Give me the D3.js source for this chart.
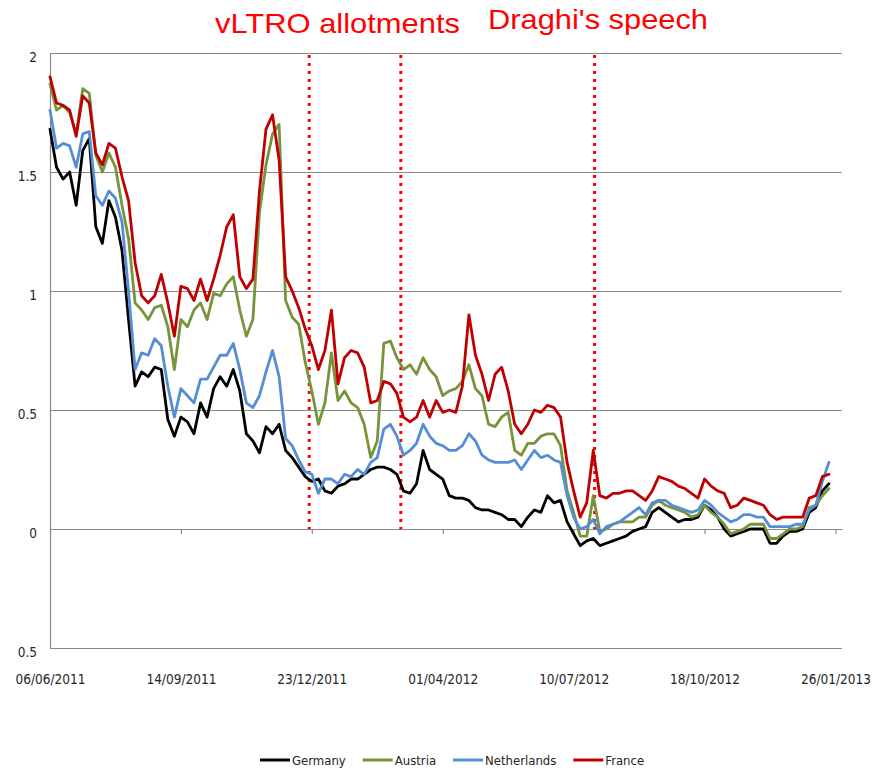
<!DOCTYPE html>
<html>
<head>
<meta charset="utf-8">
<script src="https://cdn.jsdelivr.net/npm/d3@7"></script>
<style>
body { margin: 0; background: #fff; }
.grid line { stroke: #8a8a8a; stroke-width: 1.2; }
.grid .domain { stroke: #8a8a8a; stroke-width: 1.2; }
.tick text { font-family: "DejaVu Sans Condensed", "Liberation Sans", sans-serif; font-size: 13.5px; fill: #262626; }
.legend text { font-family: "DejaVu Sans Condensed", "Liberation Sans", sans-serif; font-size: 13px; fill: #262626; }
.line { fill: none; stroke-width: 2.8; stroke-linejoin: round; stroke-linecap: round; }
.note { font-family: "Liberation Sans", Arial, sans-serif; font-size: 28px; fill: #ff0000; }
</style>
</head>
<body>
<div class="chart"></div>
<script>
// weekly readings (every 5 days from 06/06/2011)
var startDate = new Date(2011, 5, 6);
var endDate = new Date(2013, 0, 31);

var germany = [1.68,1.52,1.47,1.50,1.36,1.59,1.64,1.27,1.20,1.38,1.31,1.17,0.88,0.60,0.66,0.64,0.68,0.67,0.46,0.39,0.47,0.45,0.40,0.53,0.47,0.59,0.64,0.60,0.67,
  0.58,0.40,0.37,0.32,0.43,0.40,0.44,0.33,0.30,0.26,0.22,0.20,0.21,0.16,0.15,0.18,0.19,0.21,0.21,0.23,0.25,0.26,0.26,0.25,0.23,0.16,0.15,0.19,
  0.33,0.25,0.23,0.21,0.14,0.13,0.13,0.12,0.09,0.08,0.08,0.07,0.06,0.04,0.04,0.01,0.05,0.08,0.07,0.14,0.11,0.12,0.03,-0.02,-0.07,-0.05,
  -0.04,-0.07,-0.06,-0.05,-0.04,-0.03,-0.01,0.00,0.01,0.07,0.09,0.07,0.05,0.03,0.04,0.04,0.05,0.10,0.08,0.05,0.00,-0.03,-0.02,-0.01,0.00,0.00,0.00,-0.06,-0.06,-0.03,-0.01,-0.01,0.00,0.07,0.09,0.16,0.19];

var austria = [1.87,1.76,1.78,1.75,1.66,1.85,1.83,1.57,1.50,1.58,1.52,1.36,1.22,0.95,0.92,0.88,0.93,0.94,0.85,0.67,0.88,0.85,0.92,0.95,0.88,0.99,0.98,1.03,1.06,
  0.92,0.81,0.88,1.33,1.53,1.66,1.70,0.96,0.89,0.86,0.70,0.58,0.44,0.53,0.74,0.54,0.58,0.53,0.51,0.44,0.30,0.37,0.78,0.79,0.72,0.67,0.69,0.65,
  0.72,0.67,0.64,0.56,0.58,0.59,0.62,0.69,0.59,0.56,0.44,0.43,0.47,0.49,0.33,0.31,0.36,0.36,0.39,0.40,0.40,0.35,0.16,0.07,-0.03,-0.03,
  0.14,-0.01,0.00,0.02,0.03,0.03,0.03,0.05,0.05,0.10,0.12,0.10,0.09,0.08,0.07,0.05,0.06,0.10,0.07,0.05,0.02,-0.02,-0.01,0.00,0.02,0.02,0.02,-0.04,-0.04,-0.02,0.00,0.00,0.01,0.09,0.10,0.14,0.17];

var netherlands = [1.76,1.60,1.62,1.61,1.52,1.66,1.67,1.40,1.36,1.42,1.39,1.29,1.00,0.67,0.74,0.73,0.80,0.77,0.60,0.47,0.59,0.56,0.53,0.63,0.63,0.68,0.73,0.73,0.78,
  0.67,0.53,0.51,0.56,0.66,0.75,0.64,0.38,0.35,0.29,0.24,0.23,0.15,0.21,0.21,0.19,0.23,0.22,0.25,0.23,0.28,0.30,0.42,0.44,0.39,0.31,0.33,0.36,
  0.44,0.39,0.36,0.35,0.33,0.33,0.35,0.40,0.37,0.31,0.29,0.28,0.28,0.28,0.29,0.25,0.29,0.33,0.30,0.31,0.29,0.28,0.14,0.05,0.00,0.01,
  0.04,-0.02,0.01,0.02,0.03,0.05,0.07,0.09,0.06,0.11,0.12,0.12,0.10,0.09,0.08,0.07,0.08,0.12,0.10,0.07,0.05,0.03,0.04,0.06,0.06,0.05,0.05,0.01,0.01,0.01,0.01,0.02,0.02,0.08,0.10,0.20,0.28];

var france = [1.90,1.79,1.78,1.76,1.65,1.82,1.79,1.58,1.53,1.62,1.60,1.48,1.38,1.12,0.98,0.95,0.98,1.07,0.95,0.81,1.02,1.01,0.96,1.05,0.96,1.05,1.15,1.27,1.32,
  1.06,1.01,1.05,1.42,1.68,1.74,1.55,1.06,1.00,0.93,0.84,0.77,0.67,0.75,0.92,0.61,0.72,0.75,0.74,0.68,0.53,0.54,0.62,0.61,0.57,0.47,0.45,0.47,
  0.54,0.47,0.54,0.49,0.50,0.49,0.60,0.90,0.73,0.65,0.54,0.65,0.68,0.58,0.44,0.40,0.44,0.50,0.49,0.52,0.51,0.47,0.28,0.16,0.05,0.11,
  0.33,0.14,0.13,0.15,0.15,0.16,0.16,0.14,0.12,0.16,0.22,0.21,0.20,0.18,0.17,0.15,0.13,0.21,0.18,0.16,0.15,0.09,0.10,0.13,0.12,0.11,0.10,0.06,0.04,0.05,0.05,0.05,0.05,0.13,0.14,0.22,0.23];

var seriesNames = ["Germany", "Austria", "Netherlands", "France"];
var seriesColors = ["#000000", "#77933c", "#558ed5", "#c00000"];

var yTicks = [-0.5, 0, 0.5, 1, 1.5, 2];
var yTickLabels = ["0.5", "0", "0.5", "1", "1.5", "2"];
var xTicks = ["06/06/2011", "14/09/2011", "23/12/2011", "01/04/2012", "10/07/2012", "18/10/2012", "26/01/2013"];

var eventDates = ["21/12/2011", "29/02/2012", "26/07/2012"];
var notes = [
  {text: "vLTRO allotments", x: 215, y: 33, w: 245},
  {text: "Draghi's speech", x: 488, y: 29, w: 220}
];

var parseDate = d3.timeParse("%d/%m/%Y");
var margin = {top: 53, left: 50},
    width = 792,
    height = 595;

var dates = germany.map(function(d, i) { return d3.timeDay.offset(startDate, 5 * i); });
var allSeries = [germany, austria, netherlands, france];

var x = d3.scaleTime().domain([startDate, endDate]).range([0, width]);
var y = d3.scaleLinear().domain([-0.5, 2]).range([height, 0]);

var svg = d3.select(".chart")
    .append("svg")
    .attr("width", 888)
    .attr("height", 772);

var g = svg.append("g")
    .attr("transform", "translate(" + margin.left + "," + margin.top + ")");

// horizontal gridlines + y labels
var yAxis = d3.axisLeft(y)
    .tickValues(yTicks)
    .tickSize(-width)
    .tickSizeOuter(0)
    .tickPadding(13)
    .tickFormat(function(d, i) { return yTickLabels[i]; });

g.append("g")
    .attr("class", "grid y")
    .call(yAxis)
    .selectAll("text")
    .attr("dy", "0.6em");

// x axis at zero with small ticks
var xAxis = d3.axisBottom(x)
    .tickValues(xTicks.map(parseDate))
    .tickSize(5)
    .tickSizeOuter(0)
    .tickFormat("");

g.append("g")
    .attr("class", "grid x")
    .attr("transform", "translate(0," + y(0) + ")")
    .call(xAxis);

// x labels along the bottom
var xLabels = d3.axisBottom(x)
    .tickValues(xTicks.map(parseDate))
    .tickSize(0)
    .tickPadding(0)
    .tickFormat(d3.timeFormat("%d/%m/%Y"));

var xl = g.append("g")
    .attr("transform", "translate(0," + (height + 36) + ")")
    .call(xLabels);
xl.select(".domain").remove();
xl.selectAll("text").attr("dy", 0);

// event markers
g.selectAll(".event")
    .data(eventDates.map(parseDate))
    .enter().append("line")
    .attr("class", "event")
    .attr("x1", function(d) { return x(d); })
    .attr("x2", function(d) { return x(d); })
    .attr("y1", y(2) + 2)
    .attr("y2", y(0))
    .style("stroke", "#ff0000")
    .style("stroke-width", 3)
    .style("stroke-dasharray", "3,5");

var valueline = d3.line()
    .x(function(d, i) { return x(dates[i]); })
    .y(function(d) { return y(d); });

g.selectAll(".line")
    .data(allSeries)
    .enter().append("path")
    .attr("class", "line")
    .attr("d", valueline)
    .style("stroke", function(d, i) { return seriesColors[i]; });

// annotations
svg.selectAll(".note")
    .data(notes)
    .enter().append("text")
    .attr("class", "note")
    .attr("x", function(d) { return d.x; })
    .attr("y", function(d) { return d.y; })
    .attr("textLength", function(d) { return d.w; })
    .attr("lengthAdjust", "spacingAndGlyphs")
    .text(function(d) { return d.text; });

// legend
var legend = svg.append("g").attr("class", "legend");
var lx = 260;
seriesNames.forEach(function(name, i) {
    legend.append("line")
        .attr("x1", lx).attr("x2", lx + 30)
        .attr("y1", 760).attr("y2", 760)
        .style("stroke", seriesColors[i])
        .style("stroke-width", 3);
    var t = legend.append("text")
        .attr("x", lx + 32)
        .attr("y", 765)
        .text(name);
    lx += 32 + t.node().getComputedTextLength() + 17;
});
</script>
</body>
</html>
